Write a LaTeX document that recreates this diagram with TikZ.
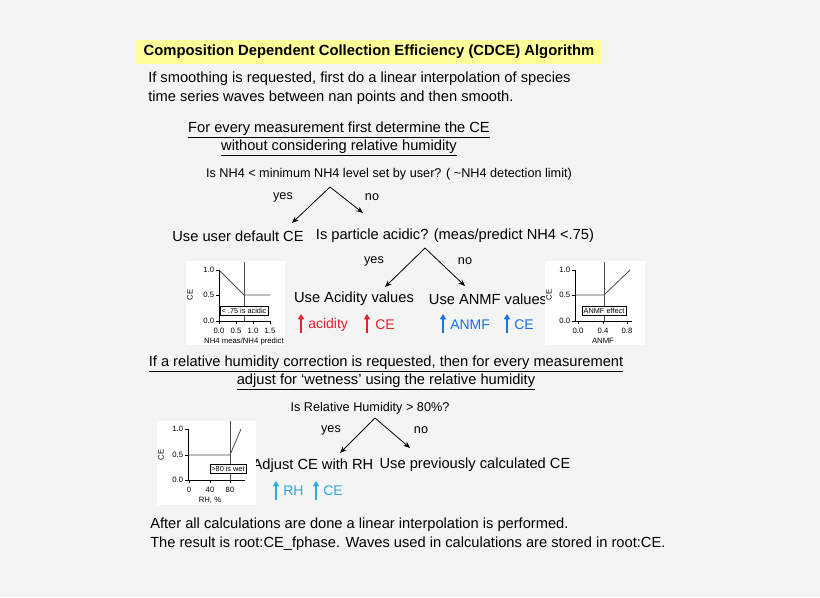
\documentclass[tikz,border=0pt]{standalone}
\usepackage{fontspec}
\setmainfont{Liberation Sans}
\usetikzlibrary{arrows.meta}
\definecolor{bg}{HTML}{F4F4F4}
\definecolor{ttl}{HTML}{FFFF99}
\definecolor{redc}{HTML}{E8202A}
\definecolor{bluec}{HTML}{1F6FE0}
\definecolor{cyanc}{HTML}{2AAAE8}
\begin{document}
\begin{tikzpicture}[x=0.75pt,y=-0.75pt,
  txt/.style={font=\fontsize{11}{13}\selectfont,inner sep=0pt},
  sm/.style={font=\fontsize{9.5}{11}\selectfont,inner sep=0pt},
  ct/.style={inner sep=0pt,anchor=west,font=\fontsize{10.5}{12}\selectfont},
  br/.style={-{Stealth[length=5pt,width=4pt]},line width=0.6pt},
  up/.style={-{Triangle[length=4pt,width=4.5pt]},line width=1.3pt},
  tk/.style={font=\fontsize{5.8}{7}\selectfont,inner sep=0.5pt},
  pbox/.style={fill=white,draw=none},
  lab/.style={draw,line width=0.4pt,fill=white,font=\fontsize{5.5}{6}\selectfont,inner sep=1.2pt},
  ax/.style={line width=0.5pt},
  cv/.style={line width=0.6pt,black!70}]
\fill[bg] (0,0) rectangle (820,597);
\useasboundingbox (0,0) rectangle (820,597);
% title
\fill[ttl] (136,40) rectangle (602,64);
\node[inner sep=0pt,font=\fontsize{11.1}{13}\selectfont\bfseries] (title) at (369,52) {Composition Dependent Collection Efficiency (CDCE) Algorithm};
\node[txt,anchor=west] (s1) at (148,79) {If smoothing is requested, first do a linear interpolation of species};
\node[txt,anchor=west] (s2) at (148,98) {time series waves between nan points and then smooth.};
\node[txt] (h1) at (339,130) {\underline{For every measurement first determine the CE}};
\node[txt] (h2) at (339,148) {\underline{without considering relative humidity}};
\node[sm] (q1) at (389,174) {Is NH4 < minimum NH4 level set by user? ( \textasciitilde NH4 detection limit)};
\coordinate (a1) at (330,187);
\coordinate (l1) at (292,223);
\coordinate (r1) at (363,213);
\draw[br] (a1) -- (l1);
\draw[br] (a1) -- (r1);
\node[sm] (yes1) at (283,197) {yes};
\node[sm] (no1) at (372,197) {no};
\node[txt] (def) at (238,236) {Use user default CE};
\node[txt] (q2) at (455,236) {Is particle acidic? (meas/predict NH4 <.75)};
\coordinate (a2) at (425,248);
\coordinate (l2) at (385,287);
\coordinate (r2) at (465,286);
\draw[br] (a2) -- (l2);
\draw[br] (a2) -- (r2);
\node[sm] (yes2) at (374,261) {yes};
\node[sm] (no2) at (465,261) {no};
\node[txt] (acid) at (354,299) {Use Acidity values};
\node[txt] (anmf) at (488,299) {Use ANMF values};
% colored arrows
\coordinate (ra1) at (301,333); \coordinate (ra1t) at (301,314);
\draw[up,redc] (ra1) -- (ra1t);
\node[ct,text=redc] (acidity) at (308,325) {acidity};
\coordinate (ra2) at (367,333); \coordinate (ra2t) at (367,314);
\draw[up,redc] (ra2) -- (ra2t);
\node[ct,text=redc] (ce1) at (375,325) {CE};
\coordinate (ba1) at (443,333); \coordinate (ba1t) at (443,314);
\draw[up,bluec] (ba1) -- (ba1t);
\node[ct,text=bluec] (anmft) at (450,325) {ANMF};
\coordinate (ba2) at (507,333); \coordinate (ba2t) at (507,314);
\draw[up,bluec] (ba2) -- (ba2t);
\node[ct,text=bluec] (ce2) at (514,325) {CE};
% RH section
\node[txt] (h3) at (386,364) {\underline{If a relative humidity correction is requested, then for every measurement}};
\node[txt] (h4) at (386,382) {\underline{adjust for `wetness' using the relative humidity}};
\node[sm] (q3) at (370,408) {Is Relative Humidity > 80\%?};
\coordinate (a3) at (375,418);
\coordinate (l3) at (340,453);
\coordinate (r3) at (410,448);
\draw[br] (a3) -- (l3);
\draw[br] (a3) -- (r3);
\node[sm] (yes3) at (331,430) {yes};
\node[sm] (no3) at (421,430) {no};
\node[txt] (adj) at (313,466) {Adjust CE with RH};
\node[txt] (prev) at (475,465) {Use previously calculated CE};
\coordinate (ca1) at (276,500); \coordinate (ca1t) at (276,481);
\draw[up,cyanc] (ca1) -- (ca1t);
\node[ct,text=cyanc] (rht) at (283,491) {RH};
\coordinate (ca2) at (316,500); \coordinate (ca2t) at (316,481);
\draw[up,cyanc] (ca2) -- (ca2t);
\node[ct,text=cyanc] (ce3) at (323,491) {CE};
\node[txt,anchor=west] (f1) at (150,525) {After all calculations are done a linear interpolation is performed.};
\node[txt,anchor=west] (f2) at (150,544) {The result is root:CE\_fphase. Waves used in calculations are stored in root:CE.};
% plot 1
\fill[pbox] (186,261) rectangle (285,345);
\draw[ax] (219,270) -- (219,321) -- (270,321);
\foreach \y/\l in {270/1.0,295/0.5,321/0.0}{\draw[ax] (216,\y)--(219,\y); \node[tk,anchor=east] at (215,\y) {\l};}
\foreach \x/\l in {219/0.0,236/0.5,253/1.0,270/1.5}{\draw[ax] (\x,321)--(\x,324); \node[tk] at (\x,331) {\l};}
\node[tk,rotate=90] at (190,295) {CE};
\node[tk] at (244,341) {NH4 meas/NH4 predict};
\draw[cv] (219,270) -- (244,295) -- (270,295);
\draw[cv] (244,262) -- (244,321);
\node[lab] at (244,311) {< .75 is acidic};
% plot 2
\fill[pbox] (545,261) rectangle (645,345);
\draw[ax] (575,270) -- (575,321) -- (632,321);
\foreach \y/\l in {270/1.0,295/0.5,321/0.0}{\draw[ax] (572,\y)--(575,\y); \node[tk,anchor=east] at (571,\y) {\l};}
\foreach \x/\l in {578/0.0,603/0.4,627/0.8}{\draw[ax] (\x,321)--(\x,324); \node[tk] at (\x,331) {\l};}
\node[tk,rotate=90] at (549,295) {CE};
\node[tk] at (603,341) {ANMF};
\draw[cv] (575,295) -- (604,295) -- (630,270);
\draw[cv] (604,262) -- (604,321);
\node[lab] at (604,311) {ANMF effect};
% plot 3
\fill[pbox] (157,421) rectangle (256,505);
\draw[ax] (188,429) -- (188,480) -- (245,480);
\foreach \y/\l in {429/1.0,455/0.5,480/0.0}{\draw[ax] (185,\y)--(188,\y); \node[tk,anchor=east] at (184,\y) {\l};}
\foreach \x/\l in {189/0,210/40,230/80}{\draw[ax] (\x,480)--(\x,483); \node[tk] at (\x,490) {\l};}
\node[tk,rotate=90] at (161,455) {CE};
\node[tk] at (210,500) {RH, \%};
\draw[cv] (188,455) -- (230,455) -- (241,429);
\draw[cv] (230,421) -- (230,480);
\node[lab] at (228,469) {>80 is wet};
\end{tikzpicture}
\end{document}
